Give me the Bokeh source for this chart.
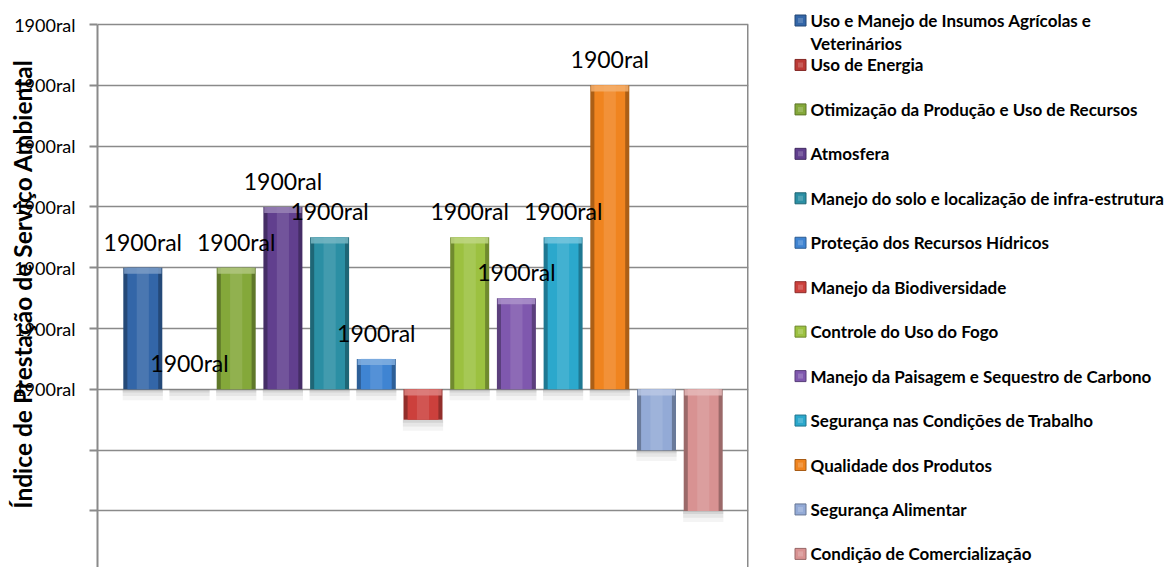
from bokeh.plotting import figure
from bokeh.layouts import row
from bokeh.models import Range1d, FixedTicker, ColumnDataSource, Title
from bokeh.embed import file_html
from bokeh.resources import INLINE
from bokeh.core.properties import value

# --- data -------------------------------------------------------------------
categories = [
    "Uso e Manejo de Insumos Agrícolas e\nVeterinários",
    "Uso de Energia",
    "Otimização da Produção e Uso de Recursos",
    "Atmosfera",
    "Manejo do solo e localização de infra-estrutura",
    "Proteção dos Recursos Hídricos",
    "Manejo da Biodiversidade",
    "Controle do Uso do Fogo",
    "Manejo da Paisagem e Sequestro de Carbono",
    "Segurança nas Condições de Trabalho",
    "Qualidade dos Produtos",
    "Segurança Alimentar",
    "Condição de Comercialização",
]
scores = [2, 0, 2, 3, 2.5, 0.5, -0.5, 2.5, 1.5, 2.5, 5, -1, -2]
colors = [
    "#3366A8", "#BC3A36", "#84A83A", "#613F8E", "#2B8FA4", "#3F84D2", "#CC403C",
    "#9CC140", "#7F58AE", "#2BA8CC", "#F0841F", "#93AAD6", "#D89292",
]
tick_values = [-2, -1, 0, 1, 2, 3, 4, 5, 6]
tick_labels = ["", "", "1900ral", "1900ral", "1900ral", "1900ral", "1900ral", "1900ral", "1900ral"]
value_label = "1900ral"
y_title = "Índice de Prestação de Serviço Ambiental"

FONT = "Lato"
GRID = "#8A8A8A"
H = 567
LEFT = 97


def shade(hex_color, f):
    """Scale a colour towards black (f < 1) or white (f > 1)."""
    h = hex_color.lstrip("#")
    rgb = [int(h[i:i + 2], 16) for i in (0, 2, 4)]
    if f <= 1:
        out = [int(c * f) for c in rgb]
    else:
        t = f - 1
        out = [int(c + (255 - c) * t) for c in rgb]
    return "#%02x%02x%02x" % tuple(max(0, min(255, c)) for c in out)


# --- main chart -------------------------------------------------------------
n = len(scores)
xs = list(range(1, n + 1))
tops = [max(v, 0) for v in scores]
bottoms = [min(v, 0) for v in scores]

y_min, y_max = -2.93, max(tick_values)
top_gap_px = 24                                   # white space above the plot box
px_per_unit = (H - top_gap_px) / (y_max - y_min)
y_end = y_max + top_gap_px / px_per_unit
x_start, x_end = 0.03, n + 0.97

p = figure(
    width=750, height=H,
    x_range=Range1d(x_start, x_end), y_range=Range1d(y_min, y_end),
    output_backend="svg", toolbar_location=None,
    x_axis_location=None,
    min_border_left=LEFT, min_border_top=0, min_border_bottom=0, min_border_right=2,
)
p.background_fill_color = "white"
p.border_fill_color = "white"
p.outline_line_color = None
p.xgrid.visible = False
p.ygrid.ticker = FixedTicker(ticks=tick_values)
p.ygrid.grid_line_color = GRID
p.ygrid.grid_line_width = 1.6

ax = p.yaxis[0]
ax.ticker = FixedTicker(ticks=tick_values)
ax.bounds = (y_min, y_max)
ax.major_label_overrides = {t: lab for t, lab in zip(tick_values, tick_labels)}
ax.major_label_text_font = FONT
ax.major_label_text_font_style = "normal"
ax.major_label_text_font_size = "18px"
ax.major_label_text_color = "black"
ax.major_label_standoff = 14
ax.major_tick_out = 8
ax.major_tick_in = 0
ax.minor_tick_out = 0
ax.minor_tick_in = 0
ax.major_tick_line_color = GRID
ax.major_tick_line_width = 2
ax.axis_line_color = GRID
ax.axis_line_width = 2

# axis title on the left, pulled in over the tick labels
p.add_layout(Title(
    text=y_title, align="center", standoff=-50,
    text_font=FONT, text_font_style="bold", text_font_size="24.5px",
    text_color="black",
), "left")

# right-hand edge of the plot box
p.segment(x0=[x_end], y0=[y_min], x1=[x_end], y1=[y_max],
          line_color=GRID, line_width=3)

# soft drop shadows beneath each bar
for depth, alpha in ((0.05, 0.14), (0.11, 0.10), (0.18, 0.07)):
    p.vbar(x=xs, width=0.86, top=bottoms, bottom=[b - depth for b in bottoms],
           fill_color="#6A6A6A", fill_alpha=alpha, line_color=None)

src = ColumnDataSource(dict(
    x=xs, top=tops, bottom=bottoms,
    edge=[shade(c, 0.72) for c in colors],
    body=colors,
    glow=[shade(c, 1.25) for c in colors],
))
# glassy bar: darker rims, main body, light centre streak
p.vbar(x="x", width=0.835, top="top", bottom="bottom", source=src,
       fill_color="edge", line_color=None)
p.vbar(x="x", width=0.66, top="top", bottom="bottom", source=src,
       fill_color="body", line_color=None)
p.vbar(x="x", width=0.26, top="top", bottom="bottom", source=src,
       fill_color="glow", fill_alpha=0.45, line_color=None)

# bevelled cap at the top of every non-empty bar
cap_idx = [i for i in range(n) if tops[i] != bottoms[i]]
p.vbar(x=[xs[i] for i in cap_idx], width=0.80,
       top=[tops[i] for i in cap_idx], bottom=[tops[i] - 0.1 for i in cap_idx],
       fill_color=[shade(colors[i], 1.35) for i in cap_idx], fill_alpha=0.85,
       line_color=None)

# value labels on non-negative bars
lab_idx = [i for i in range(n) if scores[i] >= 0]
p.text(x=[xs[i] for i in lab_idx], y=[scores[i] for i in lab_idx],
       text=[value_label] * len(lab_idx),
       text_font=value(FONT), text_font_size="23px", text_color="black",
       text_align="center", text_baseline="middle", y_offset=-26)

# --- legend panel -----------------------------------------------------------
LW = 1176 - 750
lg = figure(
    width=LW, height=H, x_range=Range1d(0, LW), y_range=Range1d(H, 0),
    output_backend="svg", toolbar_location=None, min_border=0,
)
lg.axis.visible = False
lg.grid.visible = False
lg.outline_line_color = None

legend_top, legend_step, line_h = 20, 44.45, 23
marker_x, text_x = 50, 60
ly = [legend_top + i * legend_step for i in range(n)]
lg.scatter(x=[marker_x] * n, y=ly, marker="square", size=11,
           fill_color=colors, line_color=[shade(c, 0.7) for c in colors], line_width=1)
lg.scatter(x=[marker_x] * n, y=ly, marker="square", size=5,
           fill_color=[shade(c, 1.3) for c in colors], fill_alpha=0.6, line_color=None)

tx, ty, tt = [], [], []
for i, name in enumerate(categories):
    for k, line in enumerate(name.split("\n")):
        tx.append(text_x)
        ty.append(ly[i] + k * line_h)
        tt.append(line)
lg.text(x=tx, y=ty, text=tt, text_font=value(FONT), text_font_style="bold",
        text_font_size="17px", text_color="black",
        text_align="left", text_baseline="middle")

layout = row(p, lg, spacing=0)
open("out.html", "w").write(file_html(layout, INLINE))
